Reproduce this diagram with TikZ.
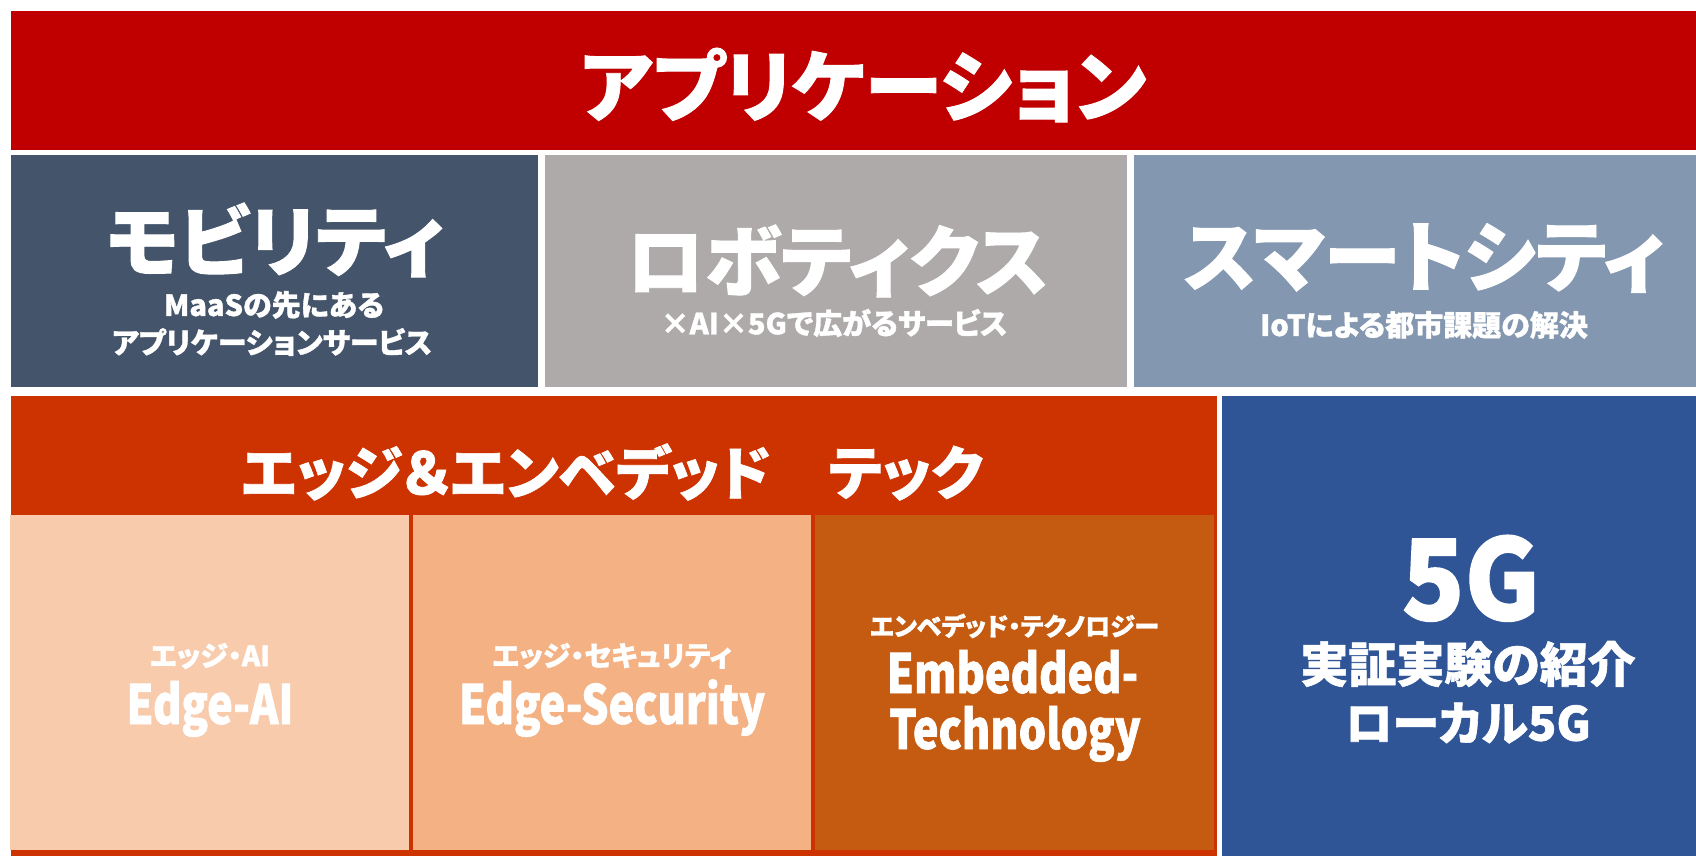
\documentclass[tikz,border=0pt]{standalone}
\usepackage{fontspec}
\setmainfont{Noto Sans CJK JP}[RawFeature=+palt, BoldFeatures={FakeBold=1.2}]
\newfontfamily\narrowfont{Noto Sans CJK JP}[FakeStretch=0.8, BoldFeatures={FakeBold=1.2}]
\newfontfamily\fivegfont{Noto Sans CJK JP}[FakeStretch=0.92, BoldFeatures={FakeBold=1.2}]

\definecolor{appred}{RGB}{192,0,0}
\definecolor{mobblue}{RGB}{68,84,106}
\definecolor{robgray}{RGB}{174,170,170}
\definecolor{cityblue}{RGB}{132,151,176}
\definecolor{edgered}{RGB}{204,51,0}
\definecolor{edgeai}{RGB}{248,203,173}
\definecolor{edgesec}{RGB}{244,177,131}
\definecolor{embedded}{RGB}{197,90,17}
\definecolor{fivegblue}{RGB}{47,85,151}

\begin{document}
\begin{tikzpicture}[x=0.5pt, y=-0.5pt,
        every node/.style = {inner sep=0pt, outer sep=0pt, align=center, text=white},
        head/.style = {font=\fontsize{39}{42}\selectfont\bfseries},
        tilehead/.style = {font=\fontsize{38.5}{42}\selectfont\bfseries},
        tilesub/.style = {font=\fontsize{14.5}{17}\selectfont\bfseries},
        edgehead/.style = {font=\fontsize{29}{32}\selectfont\bfseries},
        edgesub/.style = {font=\fontsize{14}{16}\selectfont\bfseries},
        edgename/.style = {font=\narrowfont\fontsize{27}{30}\selectfont\bfseries, anchor=base},
        fiveg/.style = {font=\fivegfont\fontsize{56}{60}\selectfont\bfseries, anchor=base},
        fivegsub/.style = {font=\fontsize{24}{27}\selectfont\bfseries}]
    \useasboundingbox (0,0) rectangle (1696,856);
    % boxes
    \fill[appred] (11,11) rectangle (1696,150);
    \fill[mobblue] (11,155) rectangle (538,387);
    \fill[robgray] (545,155) rectangle (1127,387);
    \fill[cityblue] (1134,155) rectangle (1696,387);
    \fill[edgered] (11,396) rectangle (1217,856);
    \fill[edgeai] (10,515) rectangle (409,850);
    \fill[edgesec] (413,515) rectangle (811,850);
    \fill[embedded] (815,515) rectangle (1214,850);
    \fill[fivegblue] (1222,396) rectangle (1696,856);

    % application layer
    \node[head] (apps) at (863,85) {アプリケーション};
    \node[tilehead] (mobility) at (275,240) {モビリティ};
    \node[tilesub] (mobsuba) at (274,305) {MaaSの先にある};
    \node[tilesub] (mobsubb) at (272,342) {アプリケーションサービス};
    \node[tilehead] (robotics) at (837.5,261) {ロボティクス};
    \node[tilesub] (robsub) at (834,323) {×AI×5Gで広がるサービス};
    \node[tilehead] (smartcity) at (1424,258) {スマートシティ};
    \node[tilesub] (citysub) at (1424,325) {IoTによる都市課題の解決};

    % edge & embedded
    \node[edgehead] (edgetech) at (612,472) {エッジ＆エンベデッド　テック};
    \node[edgesub] (edgeaija) at (210,656) {エッジ・AI};
    \node[edgename] (edgeaien) at (210,724) {Edge-AI};
    \node[edgesub] (edgesecja) at (612,656) {エッジ・セキュリティ};
    \node[edgename] (edgesecen) at (612,724) {Edge-Security};
    \node[edgesub, font=\fontsize{12.5}{15}\selectfont\bfseries] (embja) at (1014.5,626) {エンベデッド・テクノロジー};
    \node[edgename] (embena) at (1012.5,693) {Embedded-};
    \node[edgename] (embenb) at (1015,749) {Technology};

    % 5G
    \node[fiveg] (fiveg) at (1471,620) {5G};
    \node[fivegsub] (trial) at (1468,664) {実証実験の紹介};
    \node[fivegsub, font=\fontsize{23.5}{26}\selectfont\bfseries] (local) at (1468,723) {ローカル5G};
\end{tikzpicture}
\end{document}
